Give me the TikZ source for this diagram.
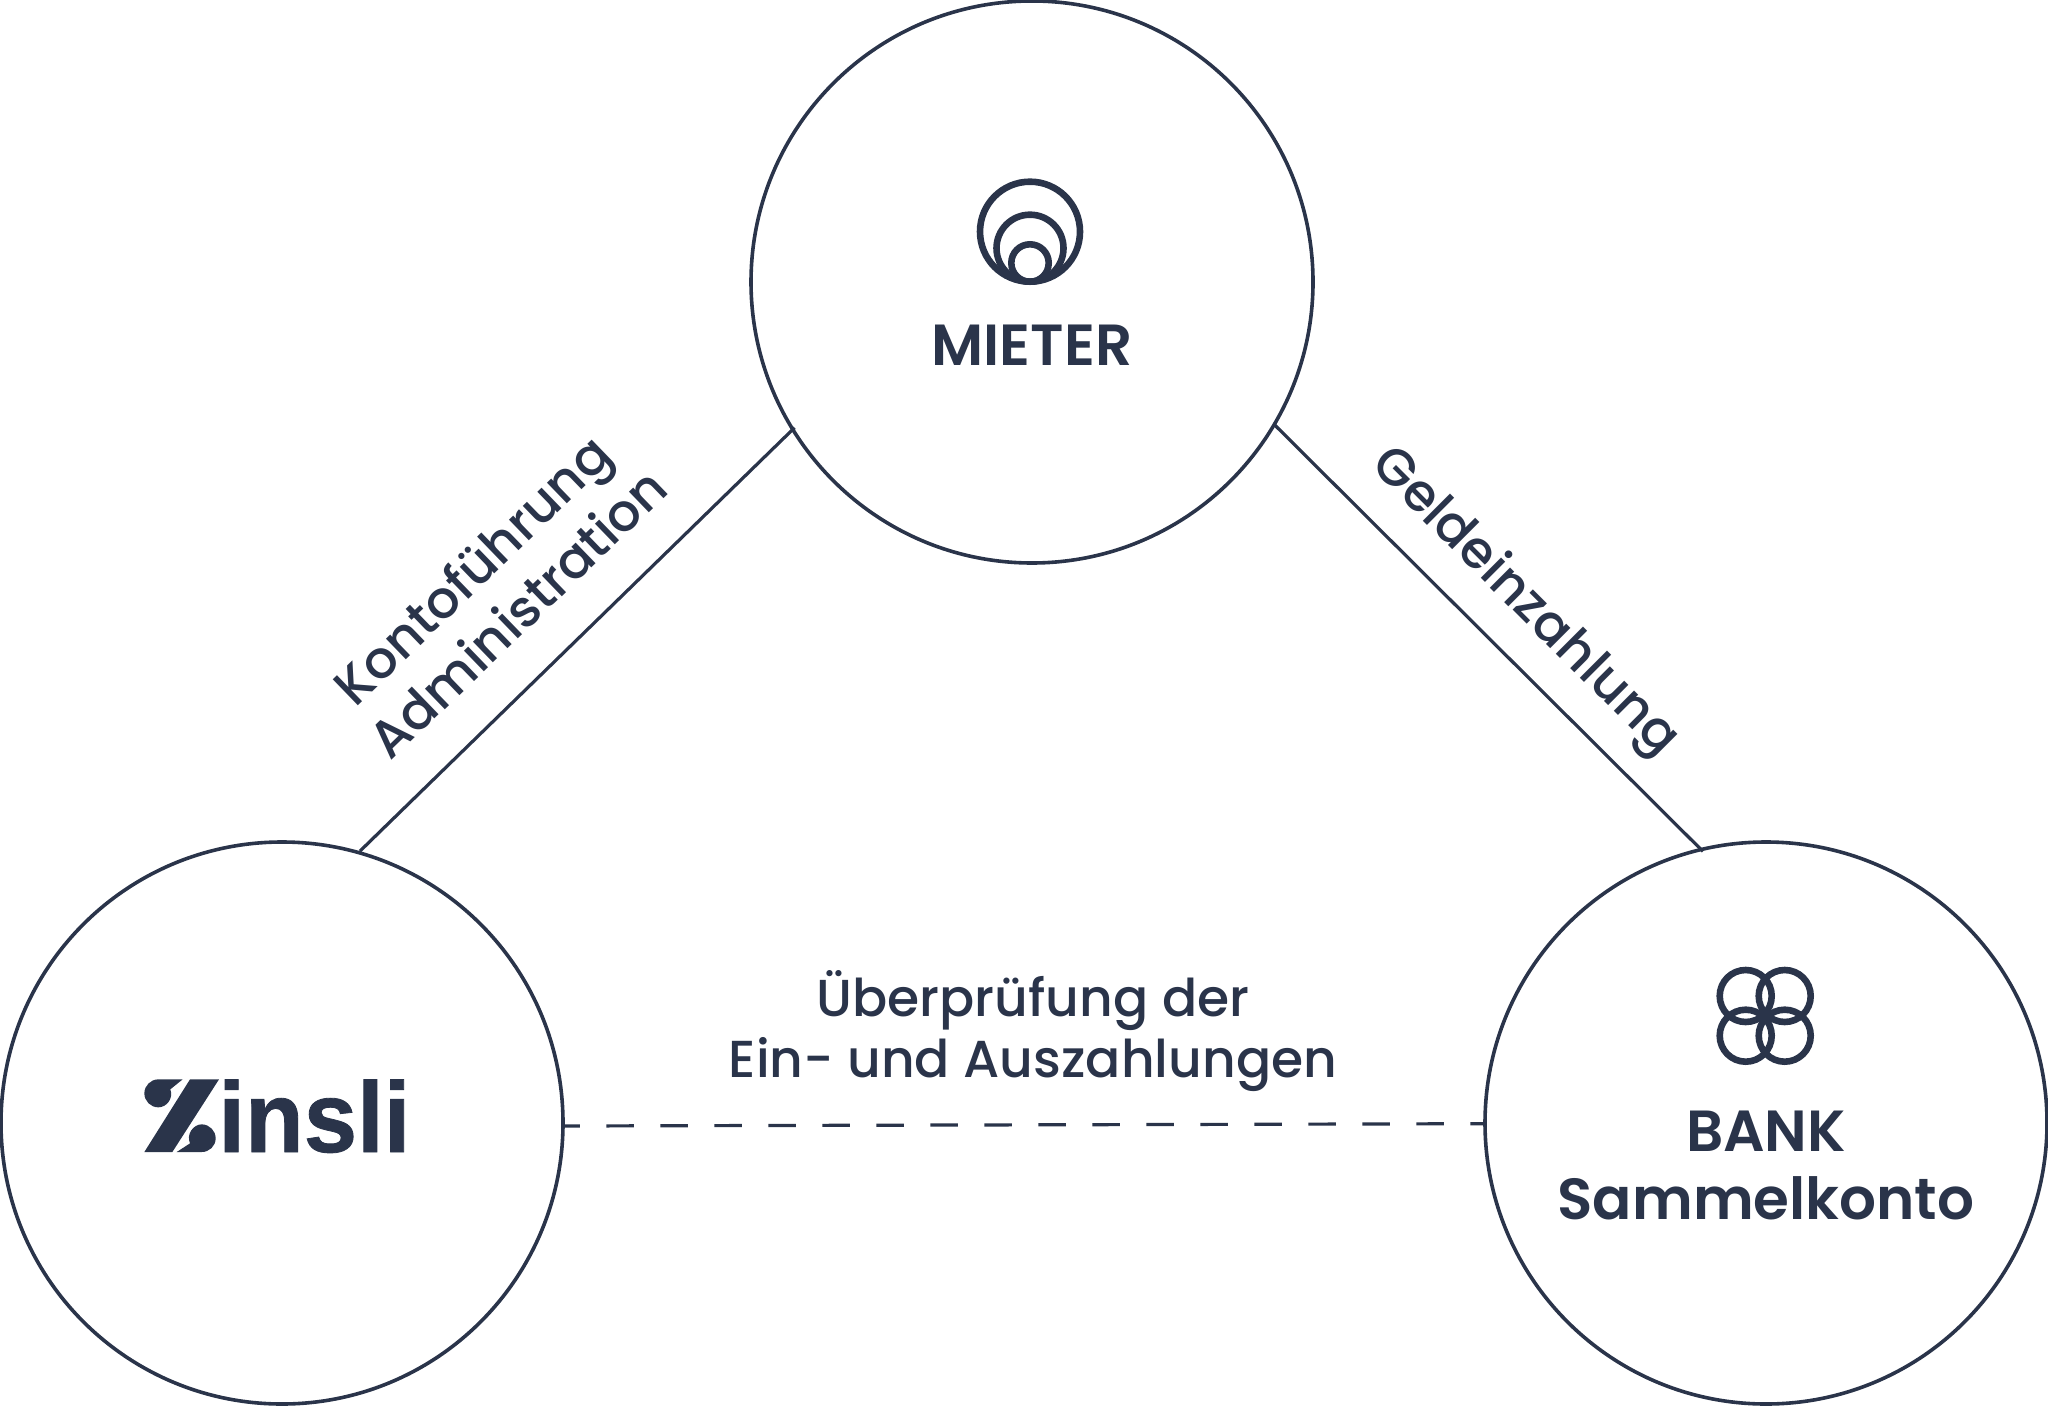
\documentclass[tikz,border=0pt]{standalone}
\usepackage{fontspec}
\setmainfont{Poppins Medium}
\newfontfamily\popsb{Poppins SemiBold}
\newfontfamily\logof{Liberation Sans Bold}[FakeBold=0.8,FakeStretch=0.96]
\definecolor{ink}{HTML}{2A344A}
\tikzset{
  party/.style={circle,draw=ink,line width=1.8pt,minimum size=281pt,inner sep=0pt},
  link/.style={draw=ink,line width=1.6pt},
  lbl/.style={text=ink,font=\fontsize{26}{30}\selectfont,inner sep=0pt},
  head/.style={text=ink,font=\popsb\fontsize{29}{34}\selectfont,inner sep=0pt},
  ring/.style={draw=ink,line width=3.3pt},
}
\begin{document}
\begin{tikzpicture}[x=0.5pt,y=-0.5pt]
\useasboundingbox (0,0) rectangle (2048,1406);
\node[party] (top) at (1032,282) {};
\node[party] (left) at (282,1123) {};
\node[party] (right) at (1766,1123) {};
\draw[link] ([xshift=2.5pt]top.211.3) -- (left.74.1);
\draw[link] ([shift={(-1.3pt,-0.6pt)}]top.-30.5) -- ([shift={(0.3pt,-2pt)}]right.103.7);
\draw[link,dash pattern=on 13.75pt off 13.25pt,dash phase=6.25pt] ([yshift=-1.5pt]left.east) -- ([yshift=-0.35pt]right.west);
% tenant icon
\foreach \r/\n in {50/a,33.5/b,18.7/c}{
  \draw[ring] (1030,281.7-\r) circle[radius=\r];
}
\node[head] (mieter) at (1032,345) {MIETER};
% bank icon
\foreach \cx in {1745.7,1784.7}{\foreach \cy in {996,1035.7}{
  \draw[ring] (\cx,\cy) circle[radius=26];
}}
\node[head] (bank) at (1766,1131) {BANK};
\node[head] (konto) at (1766,1198) {Sammelkonto};
% logo
\begin{scope}[shift={(135,1070)},x=0.1667pt,y=-0.1667pt]
\fill[ink] (165,28) -- (252,28) -- (112,246) -- (28,246) -- cycle;
\fill[ink] (70,28) -- (143,28) -- (106,58) .. controls (116,85) and (95,112) .. (70,112) .. controls (47,112) and (28,93) .. (28,70) .. controls (28,47) and (47,28) .. (70,28) -- cycle;
\fill[ink] (200,246) -- (125,246) -- (165,220) .. controls (153,193) and (175,163) .. (200,163) .. controls (223,163) and (242,182) .. (242,205) .. controls (242,228) and (223,246) .. (200,246) -- cycle;
\end{scope}
\node[anchor=base west,inner sep=0pt,text=ink,font=\logof\fontsize{50}{50}\selectfont] (logo) at (218,1152) {insli};
% labels
\node[lbl,rotate=44] (k1) at (476,574) {Kontoführung};
\node[lbl,rotate=44] (k2) at (517,612.5) {Administration};
\node[lbl,rotate=-45] (g) at (1524,603) {Geldeinzahlung};
\node[lbl] (u1) at (1033,1000.5) {Überprüfung der};
\node[lbl] (u2) at (1033,1065) {Ein- und Auszahlungen};
\end{tikzpicture}
\end{document}
